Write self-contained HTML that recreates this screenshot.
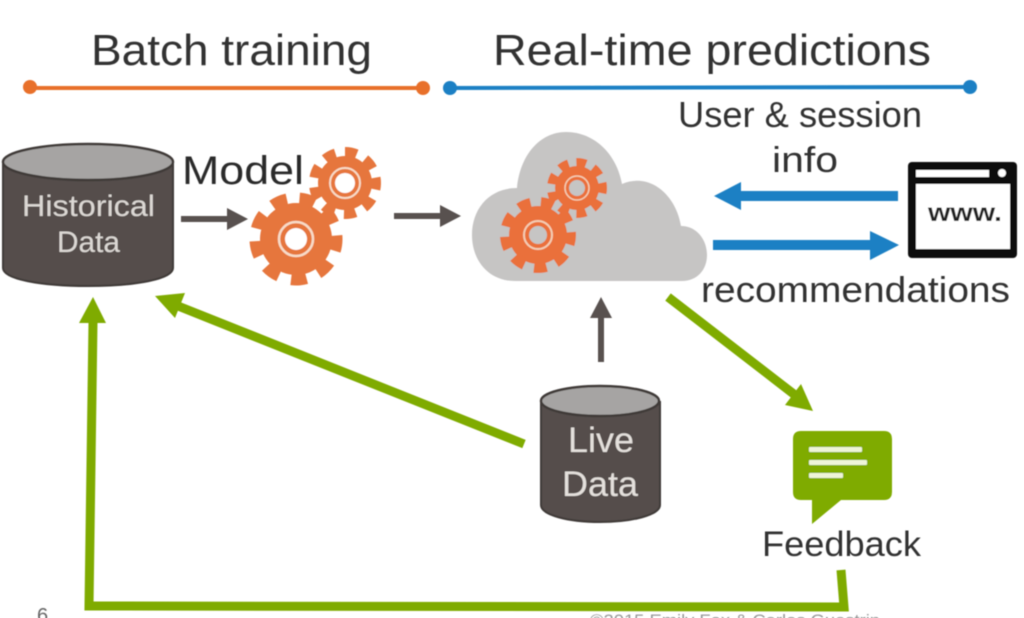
<!DOCTYPE html>
<html>
<head>
<meta charset="utf-8">
<style>
html,body{margin:0;padding:0;background:#fff;width:1024px;height:618px;overflow:hidden}
svg{display:block}
text{font-family:"Liberation Sans",sans-serif}
</style>
</head>
<body>
<svg width="1024" height="618" viewBox="0 0 1024 618" xmlns="http://www.w3.org/2000/svg">
<defs><filter id="b" x="-5%" y="-5%" width="110%" height="110%"><feGaussianBlur stdDeviation="0.6"/></filter></defs>
<rect width="1024" height="618" fill="#fff"/>
<g filter="url(#b)">
<!-- headers -->
<text x="91" y="65" font-size="44" fill="#333" textLength="281" lengthAdjust="spacingAndGlyphs">Batch training</text>
<text x="493" y="65" font-size="44" fill="#333" textLength="438" lengthAdjust="spacingAndGlyphs">Real-time predictions</text>
<line x1="30" y1="88" x2="423" y2="88" stroke="#e8702a" stroke-width="4"/>
<circle cx="30" cy="87" r="7" fill="#e8702a"/><circle cx="423" cy="88" r="7" fill="#e8702a"/>
<line x1="450" y1="88" x2="970" y2="87" stroke="#1a80c4" stroke-width="4"/>
<circle cx="450" cy="88" r="7" fill="#1a80c4"/><circle cx="970" cy="87" r="7" fill="#1a80c4"/>

<!-- historical cylinder -->
<path d="M3 162 V268 C3 279 40 286 88 286 C136 286 173 279 173 268 V162 Z" fill="#544d4b" stroke="#3f3a39" stroke-width="2"/>
<ellipse cx="88" cy="162" rx="85" ry="18" fill="#a6a4a3" stroke="#3f3a39" stroke-width="2.5"/>
<text x="22" y="216" font-size="30" fill="#dcd8d4" textLength="133" lengthAdjust="spacingAndGlyphs">Historical</text>
<text x="57" y="252" font-size="30" fill="#dcd8d4" textLength="63" lengthAdjust="spacingAndGlyphs">Data</text>

<text x="182" y="184" font-size="40" fill="#2a2a2a" textLength="122" lengthAdjust="spacingAndGlyphs">Model</text>

<!-- gears model -->
<g>
<circle cx="345" cy="183" r="27" fill="#e6763c"/>
<circle cx="345" cy="183" r="30" fill="none" stroke="#e6763c" stroke-width="12" pathLength="18" stroke-dasharray="1.1 0.9" transform="rotate(-10 345 183)"/>
<circle cx="345" cy="183" r="15" fill="#e6763c" stroke="#f8dcc8" stroke-width="2"/>
<circle cx="345" cy="183" r="10" fill="#fff"/>
<circle cx="296" cy="239" r="36" fill="#e6763c"/>
<circle cx="296" cy="239" r="40" fill="none" stroke="#e6763c" stroke-width="13" pathLength="18" stroke-dasharray="1.1 0.9" transform="rotate(-5 296 239)"/>
<circle cx="296" cy="239" r="17" fill="#e6763c" stroke="#f8dcc8" stroke-width="2.5"/>
<circle cx="296" cy="239" r="11" fill="#fff"/>
</g>

<!-- grey arrows -->
<g stroke="#58514f" stroke-width="6" fill="#58514f">
<line x1="181" y1="219" x2="230" y2="219"/>
<line x1="394" y1="216" x2="444" y2="216"/>
<line x1="601" y1="362" x2="601" y2="315"/>
</g>
<g fill="#58514f">
<polygon points="227,208 248,219 227,230"/>
<polygon points="440,205 461,216 440,227"/>
<polygon points="590,318 601,297 612,318"/>
</g>

<!-- cloud -->
<path d="M515 281 C488 281 472 260 472 235 C472 208 490 188 517 188 C520 155 540 132 566 132 C595 132 617 155 622 184 C650 172 676 195 681 226 C697 226 707 240 707 255 C707 270 697 281 682 281 Z" fill="#c6c5c4"/>
<circle cx="577" cy="188" r="22" fill="#ea703a"/>
<circle cx="577" cy="188" r="25" fill="none" stroke="#ea703a" stroke-width="10" pathLength="18" stroke-dasharray="1.1 0.9" transform="rotate(-10 577 188)"/>
<circle cx="577" cy="188" r="12" fill="#ea703a" stroke="#f4cdb4" stroke-width="1.5"/>
<circle cx="577" cy="188" r="8" fill="#c6c5c4"/>
<circle cx="538" cy="235" r="29" fill="#ea703a"/>
<circle cx="538" cy="235" r="32" fill="none" stroke="#ea703a" stroke-width="12" pathLength="18" stroke-dasharray="1.1 0.9" transform="rotate(-5 538 235)"/>
<circle cx="538" cy="235" r="14" fill="#ea703a" stroke="#f4cdb4" stroke-width="2"/>
<circle cx="538" cy="235" r="9" fill="#c6c5c4"/>

<!-- blue arrows -->
<line x1="898" y1="196" x2="735" y2="196" stroke="#1a80c4" stroke-width="10"/>
<polygon points="714,196 741,182 741,210" fill="#1a80c4"/>
<line x1="713" y1="245" x2="875" y2="245" stroke="#1a80c4" stroke-width="10"/>
<polygon points="899,245 870,231 870,260" fill="#1a80c4"/>

<!-- browser -->
<rect x="908" y="162" width="109" height="96" rx="4" fill="#0c0c0c"/>
<rect x="916" y="184" width="94" height="65" fill="#fff"/>
<rect x="916" y="170" width="73" height="7" fill="#fff"/>
<circle cx="1002" cy="173" r="4" fill="#fff"/>
<text x="928" y="221" font-size="26" font-weight="bold" fill="#222" textLength="74" lengthAdjust="spacingAndGlyphs">www.</text>

<text x="678" y="127" font-size="36" fill="#333" textLength="244" lengthAdjust="spacingAndGlyphs">User &amp; session</text>
<text x="772" y="172" font-size="36" fill="#333" textLength="66" lengthAdjust="spacingAndGlyphs">info</text>
<text x="701" y="302" font-size="36" fill="#333" textLength="309" lengthAdjust="spacingAndGlyphs">recommendations</text>

<!-- live cylinder -->
<path d="M541 402 V505 C541 515 568 522 600 522 C632 522 660 515 660 505 V402 Z" fill="#544d4b" stroke="#3f3a39" stroke-width="2"/>
<ellipse cx="600" cy="401" rx="59" ry="15" fill="#a6a4a3" stroke="#3f3a39" stroke-width="2.5"/>
<text x="568" y="452" font-size="35" fill="#e4e0dc" textLength="66" lengthAdjust="spacingAndGlyphs">Live</text>
<text x="562" y="496" font-size="35" fill="#e4e0dc" textLength="76" lengthAdjust="spacingAndGlyphs">Data</text>

<!-- green arrows -->
<g stroke="#7fab00" stroke-width="9" fill="none">
<line x1="524" y1="444" x2="178" y2="306"/>
<line x1="668" y1="297" x2="795" y2="395"/>
<polyline points="841,570 844,607 89,606 93,322"/>
</g>
<g fill="#7fab00">
<polygon points="155,296 185,293 175,318"/>
<polygon points="813,411 801,384 785,405"/>
<polygon points="93,297 106,323 79,323"/>
</g>

<!-- feedback -->
<path d="M801 431 H884 Q892 431 892 439 V492 Q892 500 884 500 H841 L812 524 V500 H801 Q793 500 793 492 V439 Q793 431 801 431 Z" fill="#7fab00"/>
<g fill="#eef4d8">
<rect x="809" y="447" width="53" height="5" rx="1"/>
<rect x="809" y="460" width="58" height="5" rx="1"/>
<rect x="809" y="473" width="34" height="5" rx="1"/>
</g>
<text x="762" y="556" font-size="35" fill="#333" textLength="159" lengthAdjust="spacingAndGlyphs">Feedback</text>

<text x="37" y="622" font-size="20" fill="#666">6</text>
<text x="590" y="626" font-size="17" fill="#999" textLength="290" lengthAdjust="spacingAndGlyphs">©2015 Emily Fox &amp; Carlos Guestrin</text>
</g>
</svg>
</body>
</html>
